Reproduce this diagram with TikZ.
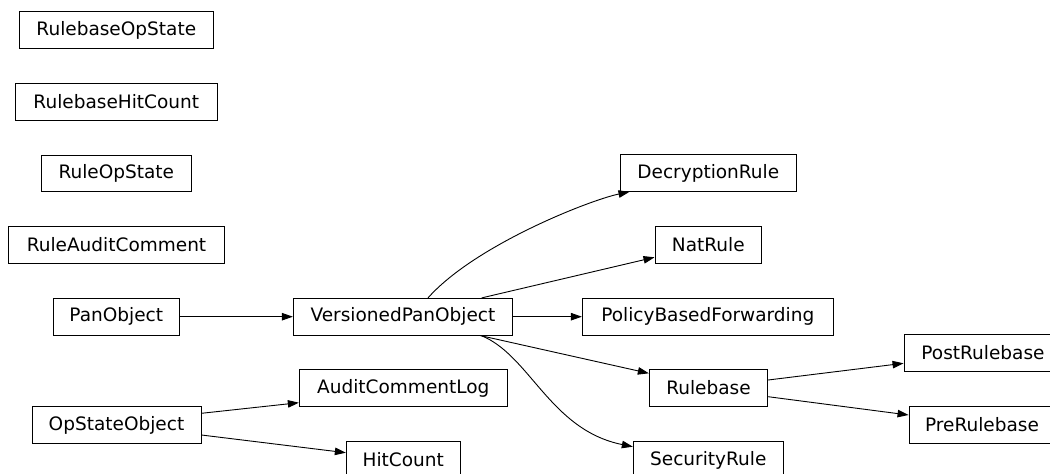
\documentclass[tikz,border=0pt]{standalone}
\usepackage{fontspec}
\setmainfont{DejaVu Sans}
\usetikzlibrary{arrows.meta,calc}

\tikzset{
  cls/.style={draw=black, line width=0.9pt, rectangle, inner sep=0pt,
    minimum height=36.7pt, font=\fontsize{18.5pt}{22pt}\selectfont, anchor=center},
  edge/.style={draw=black, line width=0.9pt, -{Triangle[length=11pt,width=7.5pt]}}
}

\begin{document}
\begin{tikzpicture}[x=1pt, y=-1pt]
  \useasboundingbox (0,0) rectangle (1050,474);
  \clip (0,0) rectangle (1050,474);

  % left column: stand-alone classes and base classes
  \node[cls, minimum width=194pt]   (rbos)  at (116.3, 30)    {RulebaseOpState};
  \node[cls, minimum width=202pt]   (rbhc)  at (116.3, 101.7) {RulebaseHitCount};
  \node[cls, minimum width=150pt]   (ros)   at (116.3, 173.3) {RuleOpState};
  \node[cls, minimum width=215.6pt] (rac)   at (116.5, 245)   {RuleAuditComment};
  \node[cls, minimum width=126pt]   (pan)   at (116.3, 316.7) {PanObject};
  \node[cls, minimum width=169pt]   (oso)   at (116.5, 425)   {OpStateObject};

  % second column
  \node[cls, minimum width=219.4pt] (vpo)   at (403, 316.7)   {VersionedPanObject};
  \node[cls, minimum width=208pt]   (acl)   at (403.3, 388)   {AuditCommentLog};
  \node[cls, minimum width=114pt]   (hc)    at (403.3, 460)   {HitCount};

  % third column
  \node[cls, minimum width=176.7pt] (dr)    at (708.3, 173)   {DecryptionRule};
  \node[cls, minimum width=106.7pt] (nat)   at (708.3, 245)   {NatRule};
  \node[cls, minimum width=251pt]   (pbf)   at (707.8, 316.7) {PolicyBasedForwarding};
  \node[cls, minimum width=118.4pt] (rb)    at (708.5, 388)   {Rulebase};
  \node[cls, minimum width=150pt]   (sr)    at (708.3, 460)   {SecurityRule};

  % fourth column
  \node[cls, minimum width=158pt]   (post)  at (983, 353)     {PostRulebase};
  \node[cls, minimum width=146pt]   (pre)   at (982, 425)     {PreRulebase};

  % inheritance edges
  \draw[edge] (pan.east) -- (vpo.west);
  \draw[edge] (vpo.east) -- (pbf.west);
  \draw[edge] ($(vpo.north)+(25,0)$) .. controls (475,245) and (590,200) .. ($(dr.south west)+(10,0)$);
  \draw[edge] ($(vpo.north)+(78.7,0)$) -- ($(nat.west)+(0,12.3)$);
  \draw[edge] ($(vpo.south)+(77,0)$) -- ($(rb.west)+(0,-14.7)$);
  \draw[edge] ($(vpo.south)+(78,0)$) .. controls (530,355) and (550,430) .. ($(sr.west)+(0,-13.3)$);
  \draw[edge] ($(rb.east)+(0,-8)$) -- ($(post.west)+(0,10.3)$);
  \draw[edge] ($(rb.east)+(0,8.7)$) -- ($(pre.west)+(0,-10)$);
  \draw[edge] ($(oso.east)+(0,-11.7)$) -- ($(acl.west)+(0,14.7)$);
  \draw[edge] ($(oso.east)+(0,10)$) -- ($(hc.west)+(0,-7.3)$);
\end{tikzpicture}
\end{document}
